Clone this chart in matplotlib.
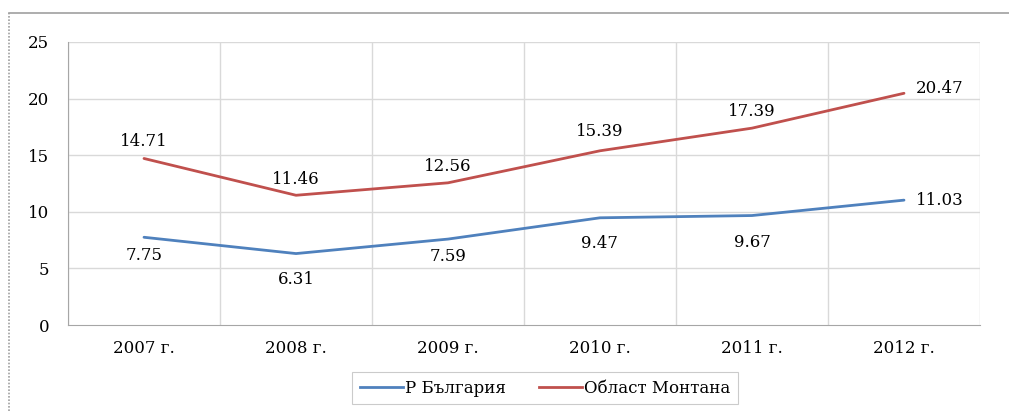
import matplotlib
matplotlib.use("Agg")
import matplotlib.pyplot as plt
from matplotlib.lines import Line2D

categories = ["2007 г.", "2008 г.", "2009 г.", "2010 г.", "2011 г.", "2012 г."]
bulgaria = [7.75, 6.31, 7.59, 9.47, 9.67, 11.03]
montana = [14.71, 11.46, 12.56, 15.39, 17.39, 20.47]
series_names = ["Р България", "Област Монтана"]

plt.rcParams['font.family'] = ['DejaVu Serif', 'Liberation Serif']

fig = plt.figure(figsize=(10.09, 4.11), dpi=100)
ax = fig.add_axes([68/1009, 86/411, 912/1009, 283/411])

x = list(range(len(categories)))
blue = "#4F81BD"
red = "#C0504D"
ax.plot(x, bulgaria, color=blue, lw=2.0, solid_capstyle='round')
ax.plot(x, montana, color=red, lw=2.0, solid_capstyle='round')

ax.set_xlim(-0.5, len(categories) - 0.5)
ax.set_ylim(0, 25)
ax.set_yticks([0, 5, 10, 15, 20, 25])
ax.set_xticks(x)
ax.set_xticklabels(categories, fontsize=12)
ax.tick_params(axis='both', length=0, labelsize=12, colors='black')
ax.tick_params(axis='y', pad=13.5)
ax.tick_params(axis='x', pad=11)

for b in [i - 0.5 for i in range(len(categories) + 1)]:
    ax.axvline(b, color='#d9d9d9', lw=1.0, zorder=0)
for yv in [5, 10, 15, 20, 25]:
    ax.axhline(yv, color='#d9d9d9', lw=1.0, zorder=0)
for s in ['top', 'right']:
    ax.spines[s].set_visible(False)
ax.spines['left'].set_color('#a6a6a6')
ax.spines['bottom'].set_color('#a6a6a6')

blue_off = [(0, -18), (0, -26), (0, -17), (0, -26), (0, -27), (36, 0)]
red_off = [(0, 17), (0, 16), (0, 16), (0, 19), (0, 17), (36, 5)]
for i, v in enumerate(bulgaria):
    dx, dy = blue_off[i]
    ax.annotate(f"{v:.2f}", (i, v), xytext=(dx, dy), textcoords='offset pixels',
                ha='center', va='center', fontsize=12)
for i, v in enumerate(montana):
    dx, dy = red_off[i]
    ax.annotate(f"{v:.2f}", (i, v), xytext=(dx, dy), textcoords='offset pixels',
                ha='center', va='center', fontsize=12)

handles = [Line2D([], [], color=blue, lw=2.0), Line2D([], [], color=red, lw=2.0)]
leg = fig.legend(handles, series_names, loc='center', bbox_to_anchor=(545/1009, (411-388)/411),
                 ncol=2, fontsize=12, frameon=True, fancybox=False, handlelength=2.6,
                 handletextpad=0.1, columnspacing=2.0, borderpad=0.45, borderaxespad=0)
leg.get_frame().set_edgecolor('#bfbfbf')
leg.get_frame().set_linewidth(0.8)

# outer chart border fragments
fig.add_artist(Line2D([9/1009, 1.0], [1 - 13/411, 1 - 13/411], color='#a0a0a0', lw=1.2))
fig.add_artist(Line2D([9/1009, 9/1009], [0, 1 - 13/411], color='#a0a0a0', lw=1.2, ls=(0, (1, 1))))

fig.savefig("out.png", dpi=100)
